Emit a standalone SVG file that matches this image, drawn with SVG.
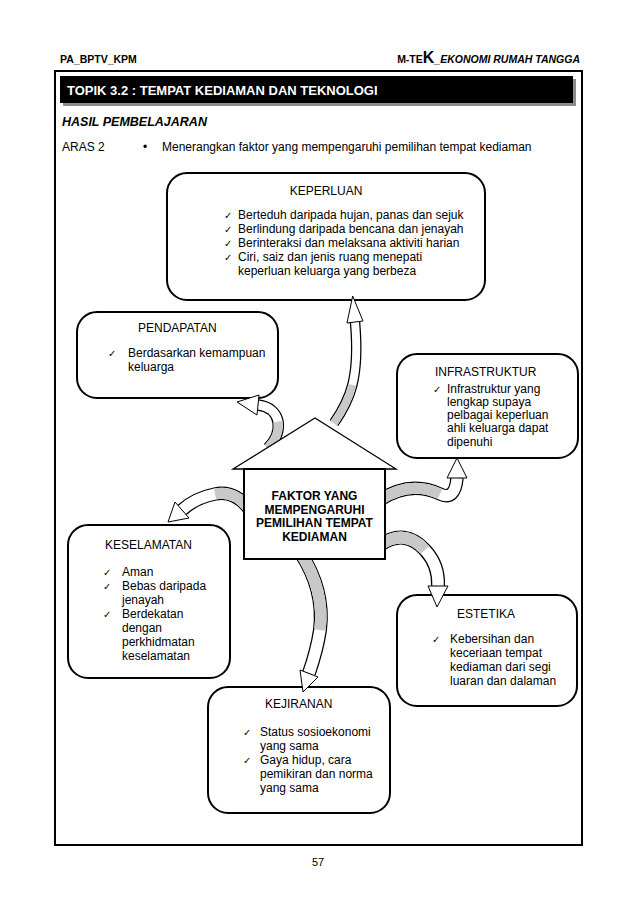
<svg xmlns="http://www.w3.org/2000/svg" width="638" height="903" viewBox="0 0 638 903">
<style>
text{font-family:"Liberation Sans",Arial,sans-serif;fill:#000}
.hd{font-size:10.5px;font-weight:bold}
.t{font-size:12px}
.ck{font-family:"DejaVu Sans",sans-serif;font-size:10px}
.box{fill:#fff;stroke:#000;stroke-width:2}
.ab{fill:none;stroke:#000}
.aw{fill:none;stroke:#fff}
.ag{fill:none;stroke:#c8c8c8}
.ah{fill:#fff;stroke:#000;stroke-width:1}
.hs{font-size:12px;font-weight:bold;text-anchor:middle}
</style>
<rect x="0" y="0" width="638" height="903" fill="#fff"/>
<g id="page">
<text class="hd" x="60" y="63">PA_BPTV_KPM</text>
<text class="hd" x="580" y="63" text-anchor="end">M-TE<tspan font-size="16">K</tspan><tspan font-style="italic">_EKONOMI RUMAH TANGGA</tspan></text>
<rect x="55" y="71" width="527" height="774" fill="none" stroke="#000" stroke-width="2"/>
<rect x="63" y="79" width="513" height="27" fill="#8c8c8c"/>
<rect x="60" y="76" width="513" height="27" fill="#000"/>
<text x="67" y="95" font-size="13" font-weight="bold" style="fill:#fff">TOPIK 3.2 : TEMPAT KEDIAMAN DAN TEKNOLOGI</text>
<text x="62" y="126" font-size="12.5" font-weight="bold" font-style="italic">HASIL PEMBELAJARAN</text>
<text class="t" x="62" y="151">ARAS 2</text>
<text class="t" x="143" y="151">•</text>
<text class="t" x="162" y="151">Menerangkan faktor yang mempengaruhi pemilihan tempat kediaman</text>
<text x="318" y="866" font-size="11" text-anchor="middle">57</text>
</g>
<g id="keperluan">
<rect class="box" x="167" y="173" width="318" height="127" rx="20"/>
<text class="t" x="326" y="195" text-anchor="middle">KEPERLUAN</text>
<text class="ck" x="224" y="219">✓</text><text class="t" x="238" y="219">Berteduh daripada hujan, panas dan sejuk</text>
<text class="ck" x="224" y="233">✓</text><text class="t" x="238" y="233">Berlindung daripada bencana dan jenayah</text>
<text class="ck" x="224" y="247">✓</text><text class="t" x="238" y="247">Berinteraksi dan melaksana aktiviti harian</text>
<text class="ck" x="224" y="261">✓</text><text class="t" x="238" y="261">Ciri, saiz dan jenis ruang menepati</text>
<text class="t" x="238" y="275">keperluan keluarga yang berbeza</text>
</g>
<g id="pendapatan">
<rect class="box" x="77" y="312" width="201" height="86" rx="20"/>
<text class="t" x="138" y="332">PENDAPATAN</text>
<text class="ck" x="108" y="357">✓</text><text class="t" x="128" y="357">Berdasarkan kemampuan</text>
<text class="t" x="128" y="371">keluarga</text>
</g>
<g id="infrastruktur">
<rect class="box" x="397" y="354" width="181" height="104" rx="20"/>
<text class="t" x="435" y="376">INFRASTRUKTUR</text>
<text class="ck" x="433" y="393">✓</text><text class="t" x="447" y="393">Infrastruktur yang</text>
<text class="t" x="447" y="406">lengkap supaya</text>
<text class="t" x="447" y="419">pelbagai keperluan</text>
<text class="t" x="447" y="432">ahli keluarga dapat</text>
<text class="t" x="447" y="446">dipenuhi</text>
</g>
<g id="keselamatan">
<rect class="box" x="68" y="525" width="162" height="153" rx="20"/>
<text class="t" x="105" y="549">KESELAMATAN</text>
<text class="ck" x="103" y="576">✓</text><text class="t" x="122" y="576">Aman</text>
<text class="ck" x="103" y="590">✓</text><text class="t" x="122" y="590">Bebas daripada</text>
<text class="t" x="122" y="604">jenayah</text>
<text class="ck" x="103" y="618">✓</text><text class="t" x="122" y="618">Berdekatan</text>
<text class="t" x="122" y="632">dengan</text>
<text class="t" x="122" y="646">perkhidmatan</text>
<text class="t" x="122" y="660">keselamatan</text>
</g>
<g id="estetika">
<rect class="box" x="397" y="595" width="180" height="111" rx="20"/>
<text class="t" x="457" y="618">ESTETIKA</text>
<text class="ck" x="432" y="643">✓</text><text class="t" x="450" y="643">Kebersihan dan</text>
<text class="t" x="450" y="657">keceriaan tempat</text>
<text class="t" x="450" y="671">kediaman dari segi</text>
<text class="t" x="450" y="685">luaran dan dalaman</text>
</g>
<g id="kejiranan">
<rect class="box" x="208" y="687" width="182" height="126" rx="20"/>
<text class="t" x="265" y="708">KEJIRANAN</text>
<text class="ck" x="243" y="736">✓</text><text class="t" x="260" y="736">Status sosioekonomi</text>
<text class="t" x="260" y="750">yang sama</text>
<text class="ck" x="243" y="764">✓</text><text class="t" x="260" y="764">Gaya hidup, cara</text>
<text class="t" x="260" y="778">pemikiran dan norma</text>
<text class="t" x="260" y="792">yang sama</text>
</g>
<g id="connectors">
<g id="to-keperluan">
<path class="ab" stroke-width="10.5" d="M334,423 C350,400 360,378 355,322"/>
<path class="aw" stroke-width="8" d="M334,423 C350,400 360,378 355,322"/>
<path class="ag" stroke-width="8" d="M334,423 C342,411.5 348.5,400.25 352.4,384.9"/>
<polygon class="ah" points="352.7,296 363,321 347,323"/>
</g>
<g id="to-pendapatan">
<path class="ab" stroke-width="11.5" d="M268,448 C284,432 282,408 258,405"/>
<path class="aw" stroke-width="9" d="M268,448 C284,432 282,408 258,405"/>
<path class="ag" stroke-width="9" d="M268,448 C276,440 279.5,430 278,421.6"/>
<polygon class="ah" points="237,402 259,395 257,415"/>
</g>
<g id="to-infrastruktur">
<path class="ab" stroke-width="13.5" d="M380,500 Q410,480 440,494 Q455,501 457,478"/>
<path class="aw" stroke-width="11" d="M380,500 Q410,480 440,494 Q455,501 457,478"/>
<path class="ag" stroke-width="11" d="M380,500 Q410,480 440,494"/>
<polygon class="ah" points="457,458 467,478 447,478"/>
</g>
<g id="to-keselamatan">
<path class="ab" stroke-width="13.5" d="M250,510 Q235,490 215,494 Q195,498 182,510"/>
<path class="aw" stroke-width="11" d="M250,510 Q235,490 215,494 Q195,498 182,510"/>
<path class="ag" stroke-width="11" d="M250,510 Q235,490 215,494"/>
<polygon class="ah" points="168,522 189,518 175,502"/>
</g>
<g id="to-estetika">
<path class="ab" stroke-width="14" d="M380,545 Q405,528 425,550 Q439,565 438,586"/>
<path class="aw" stroke-width="11.5" d="M380,545 Q405,528 425,550 Q439,565 438,586"/>
<path class="ag" stroke-width="11.5" d="M380,545 Q405,528 425,550"/>
<polygon class="ah" points="437,607 448,586 428,586"/>
</g>
<g id="to-kejiranan">
<path class="ab" stroke-width="14" d="M300,552 Q325,590 320,630 Q317,650 309,673"/>
<path class="aw" stroke-width="11.5" d="M300,552 Q325,590 320,630 Q317,650 309,673"/>
<path class="ag" stroke-width="11.5" d="M300,552 Q325,590 320,630"/>
<polygon class="ah" points="303,692 318,677 300,670"/>
</g>
</g>
<g id="house">
<polygon points="233,469 315,418 396,469" fill="#fff" stroke="#000" stroke-width="1.3"/>
<rect x="244" y="469" width="141" height="90" fill="#fff" stroke="#000" stroke-width="2"/>
<text class="hs" x="314.5" y="500">FAKTOR YANG</text>
<text class="hs" x="314.5" y="514">MEMPENGARUHI</text>
<text class="hs" x="314.5" y="527">PEMILIHAN TEMPAT</text>
<text class="hs" x="314.5" y="541">KEDIAMAN</text>
</g>
</svg>
